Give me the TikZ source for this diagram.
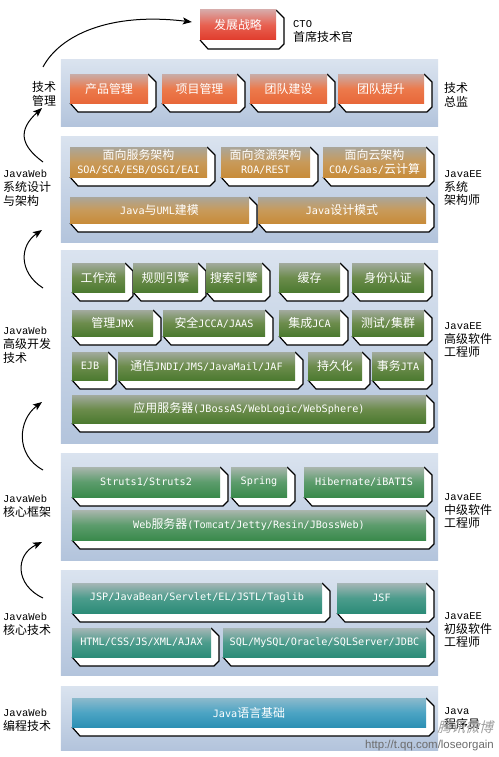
\documentclass[tikz,border=0pt]{standalone}
\usepackage{fontspec}
\newfontfamily\cjkf{Noto Sans CJK SC}
\newfontfamily\monof{DejaVu Sans Mono}
\newfontfamily\lmonof{Liberation Mono}
\newfontfamily\wsansf{Liberation Sans}
\usetikzlibrary{arrows.meta,calc}
\newcommand\zhc[1]{{\cjkf\fontsize{12}{14}\selectfont #1}}
\newcommand\lmo[1]{{\lmonof\fontsize{10.5}{14}\selectfont #1}}
\definecolor{pTop}{HTML}{DAE3EF}
\definecolor{pBot}{HTML}{B3C4DC}
\definecolor{t0a}{HTML}{D8A8A6}\definecolor{t0b}{HTML}{E86050}\definecolor{t0c}{HTML}{E03C2C}
\definecolor{t1a}{HTML}{C8ACA8}\definecolor{t1b}{HTML}{EC7A4C}\definecolor{t1c}{HTML}{E8683A}
\definecolor{t2a}{HTML}{AAA69A}\definecolor{t2b}{HTML}{C89A5A}\definecolor{t2c}{HTML}{C88C3A}
\definecolor{t3a}{HTML}{A2AA9E}\definecolor{t3b}{HTML}{6C8C4C}\definecolor{t3c}{HTML}{4C7A30}
\definecolor{t4a}{HTML}{AAB6AE}\definecolor{t4b}{HTML}{5C9C6C}\definecolor{t4c}{HTML}{3A8A4C}
\definecolor{t5a}{HTML}{A6B6B6}\definecolor{t5b}{HTML}{4C9C8C}\definecolor{t5c}{HTML}{2C8C78}
\definecolor{t6a}{HTML}{8CBACC}\definecolor{t6b}{HTML}{4CA4C4}\definecolor{t6c}{HTML}{2C90B4}
\tikzset{
  panel/.style={inner sep=0pt, draw=none, top color=pTop, bottom color=pBot},
  face/.style={inner sep=0pt, draw=none, text=white, align=center,
    font=\monof\fontsize{10.2}{14}\selectfont},
  edge/.style={draw=black, line width=1.2bp, line join=round},
  t0/.style={top color=t0a, bottom color=t0c, middle color=t0b},
  t1/.style={top color=t1a, bottom color=t1c, middle color=t1b},
  t2/.style={top color=t2a, bottom color=t2c, middle color=t2b},
  t3/.style={top color=t3a, bottom color=t3c, middle color=t3b},
  t4/.style={top color=t4a, bottom color=t4c, middle color=t4b},
  t5/.style={top color=t5a, bottom color=t5c, middle color=t5b},
  t6/.style={top color=t6a, bottom color=t6c, middle color=t6b},
  lbl/.style={inner sep=0pt, anchor=north west, align=left,
    font=\cjkf\fontsize{12}{14}\selectfont},
  arr/.style={line width=1bp, -{Stealth[length=9bp,width=7bp,inset=2bp]}},
}
% name, x1, y1, x2, y2, tier, text
\newcommand\jb[7]{%
  \fill[white] (#2,#5) -- ({#2+8},{#5+9}) -- ({#4+3},{#5+9}) -- ({#4+8},{#5+4}) -- ({#4+8},{#3+8}) -- (#4,#3) -- (#4,#5) -- cycle;
  \draw[edge] (#2,#5) -- ({#2+8},{#5+9}) -- ({#4+3},{#5+9}) -- ({#4+8},{#5+4}) -- ({#4+8},{#3+8}) -- (#4,#3);
  \node[face,#6,minimum width={(#4-#2)*1bp},minimum height={(#5-#3)*1bp}] (#1) at ({(#2+#4)/2},{(#3+#5)/2}) {#7};
}
\newcommand\pan[3]{% name, y1, y2
  \node[panel,minimum width=377bp,minimum height={(#3-#2)*1bp}] (#1) at (249.5,{(#2+#3)/2}) {};
}
\begin{document}
\begin{tikzpicture}[x=1bp,y=-1bp]
\useasboundingbox[fill=white] (0,0) rectangle (499,757);

% panels
\pan{p1}{60}{126}
\pan{p2}{136}{242}
\pan{p3}{250}{443}
\pan{p4}{453}{560}
\pan{p5}{570}{675}
\pan{p6}{686}{750}

% top
\jb{strategy}{200}{10}{276}{40}{t0}{\zhc{发展战略}}
% tier 1
\jb{b11}{70}{74}{148}{103}{t1}{\zhc{产品管理}}
\jb{b12}{162}{74}{237}{103}{t1}{\zhc{项目管理}}
\jb{b13}{250}{74}{327}{103}{t1}{\zhc{团队建设}}
\jb{b14}{338}{74}{424}{103}{t1}{\zhc{团队提升}}
% tier 2
\jb{b21}{70}{147}{207}{177}{t2}{\zhc{面向服务架构}\\SOA/SCA/ESB/OSGI/EAI}
\jb{b22}{221}{147}{310}{177}{t2}{\zhc{面向资源架构}\\ROA/REST}
\jb{b23}{323}{147}{426}{177}{t2}{\zhc{面向云架构}\\COA/Saas/\zhc{云计算}}
\jb{b24}{70}{197}{249}{223}{t2}{Java\zhc{与}UML\zhc{建模}}
\jb{b25}{258}{197}{426}{223}{t2}{Java\zhc{设计模式}}
% tier 3
\jb{b31}{72}{263}{125}{292}{t3}{\zhc{工作流}}
\jb{b32}{133}{263}{198}{292}{t3}{\zhc{规则引擎}}
\jb{b33}{206}{263}{262}{292}{t3}{\zhc{搜索引擎}}
\jb{b34}{279}{263}{340}{292}{t3}{\zhc{缓存}}
\jb{b35}{352}{263}{424}{292}{t3}{\zhc{身份认证}}
\jb{b36}{72}{310}{153}{336}{t3}{\zhc{管理}JMX}
\jb{b37}{163}{310}{265}{336}{t3}{\zhc{安全}JCCA/JAAS}
\jb{b38}{279}{310}{340}{336}{t3}{\zhc{集成}JCA}
\jb{b39}{352}{310}{424}{336}{t3}{\zhc{测试}/\zhc{集群}}
\jb{b3a}{72}{352}{108}{380}{t3}{EJB}
\jb{b3b}{118}{352}{295}{380}{t3}{\zhc{通信}JNDI/JMS/JavaMail/JAF}
\jb{b3c}{308}{352}{362}{380}{t3}{\zhc{持久化}}
\jb{b3d}{372}{352}{424}{380}{t3}{\zhc{事务}JTA}
\jb{b3e}{72}{395}{426}{423}{t3}{\zhc{应用服务器}(JBossAS/WebLogic/WebSphere)}
% tier 4
\jb{b41}{72}{467}{220}{497}{t4}{Struts1/Struts2}
\jb{b42}{231}{467}{287}{497}{t4}{Spring}
\jb{b43}{304}{467}{424}{497}{t4}{Hibernate/iBATIS}
\jb{b44}{72}{510}{426}{540}{t4}{Web\zhc{服务器}(Tomcat/Jetty/Resin/JBossWeb)}
% tier 5
\jb{b51}{72}{583}{322}{613}{t5}{JSP/JavaBean/Servlet/EL/JSTL/Taglib}
\jb{b52}{337}{583}{426}{613}{t5}{JSF}
\jb{b53}{72}{628}{211}{657}{t5}{HTML/CSS/JS/XML/AJAX}
\jb{b54}{223}{628}{426}{657}{t5}{SQL/MySQL/Oracle/SQLServer/JDBC}
% tier 6
\jb{b61}{72}{698}{426}{727}{t6}{Java\zhc{语言基础}}

% left labels
\node[lbl] (L1) at (32,81) {技术\\管理};
\node[lbl] (L2) at (3,170) {\lmo{JavaWeb}\\系统设计\\与架构};
\node[lbl] (L3) at (3,327) {\lmo{JavaWeb}\\高级开发\\技术};
\node[lbl] (L4) at (3,495) {\lmo{JavaWeb}\\核心框架};
\node[lbl] (L5) at (3,613) {\lmo{JavaWeb}\\核心技术};
\node[lbl] (L6) at (3,709) {\lmo{JavaWeb}\\编程技术};

% right labels
\node[lbl] (R0) at (293,20) {\lmo{CTO}\\首席技术官};
\node[lbl] (R1) at (444,82) {技术\\总监};
\node[lbl] (R2) at (444,170) {\lmo{JavaEE}\\系统\\架构师};
\node[lbl] (R3) at (444,322) {\lmo{JavaEE}\\高级软件\\工程师};
\node[lbl] (R4) at (444,493) {\lmo{JavaEE}\\中级软件\\工程师};
\node[lbl] (R5) at (444,612) {\lmo{JavaEE}\\初级软件\\工程师};
\node[lbl] (R6) at (444,707) {\lmo{Java}\\程序员};

% arrows
\draw[arr] ($(L1.north west)+(11,-14)$) .. controls (60,35) and (110,12) .. ($(strategy.west)+(-8,-3)$);
\draw[arr] ($(L2.north west)+(40,-8)$) .. controls (20,145) and (18,130) .. ($(L1.north west)+(10,27)$);
\draw[arr] ($(L3.north west)+(40,-39)$) .. controls (18,272) and (20,245) .. ($(L2.north west)+(39,60)$);
\draw[arr] ($(L4.north west)+(40,-25)$) .. controls (15,455) and (18,420) .. ($(L3.north west)+(39,75)$);
\draw[arr] ($(L5.north west)+(40,-15)$) .. controls (15,585) and (15,555) .. ($(L4.north west)+(39,47)$);

% watermark
\node[inner sep=0pt, anchor=south east, text=gray!75, xslant=0.25,
  font=\cjkf\fontsize{14}{14}\selectfont] (wm) at (493,734) {腾讯微博};
\node[inner sep=0pt, anchor=south east, text=gray!85!black,
  font=\wsansf\fontsize{11.5}{12}\selectfont] (url) at (494,751) {http://t.qq.com/loseorgain};
\end{tikzpicture}
\end{document}
